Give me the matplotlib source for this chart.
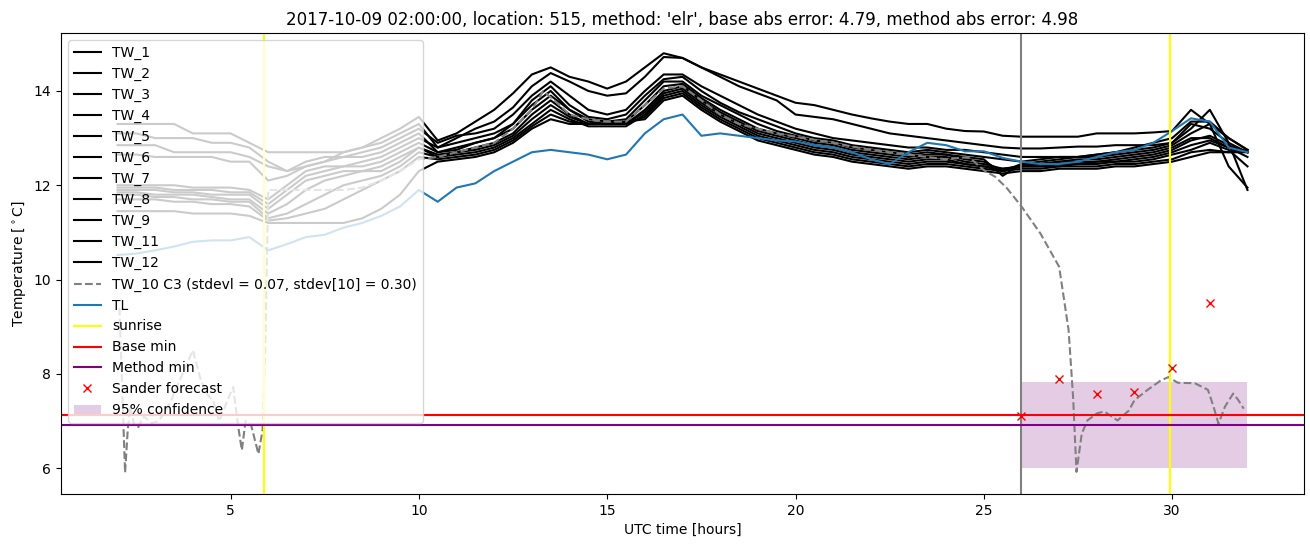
import numpy as np
import matplotlib
matplotlib.use("Agg")
import matplotlib.pyplot as plt

# half-hour grid shared by the TW sensors and TL (UTC hours)
hours = np.arange(2.0, 32.01, 0.5)

# TW sensor temperatures, one value per half hour from 2 to 32
tw_1 = [13.3, 13.3, 13.3, 13.3, 13.1, 13.1, 13.1, 12.9, 12.7, 12.7,
        12.7, 12.7, 12.7, 12.8, 13.0, 13.2, 13.45, 12.95, 13.1, 13.35,
        13.6, 13.95, 14.35, 14.5, 14.3, 14.2, 14.05, 14.2, 14.5, 14.8,
        14.7, 14.5, 14.35, 14.2, 14.05, 13.9, 13.75, 13.7, 13.6, 13.5,
        13.42, 13.35, 13.3, 13.3, 13.2, 13.15, 13.14, 13.05, 13.03, 13.03,
        13.03, 13.03, 13.1, 13.1, 13.1, 13.12, 13.15, 13.6, 13.3, 12.4,
        11.95]
tw_2 = [13.1, 13.1, 13.0, 13.0, 13.0, 12.9, 12.9, 12.8, 12.5, 12.3,
        12.4, 12.5, 12.7, 12.8, 12.9, 13.1, 13.3, 12.8, 13.0, 13.2,
        13.35, 13.65, 14.1, 14.38, 14.2, 14.0, 13.9, 13.95, 14.3, 14.72,
        14.7, 14.5, 14.3, 14.1, 13.95, 13.8, 13.5, 13.45, 13.4, 13.3,
        13.2, 13.1, 13.05, 13.0, 12.95, 12.9, 12.85, 12.8, 12.78, 12.78,
        12.8, 12.82, 12.82, 12.85, 12.85, 12.85, 12.9, 13.2, 13.6, 12.9,
        11.9]
tw_3 = [12.85, 12.85, 12.85, 12.7, 12.7, 12.7, 12.7, 12.6, 12.4, 12.3,
        12.5, 12.6, 12.6, 12.7, 12.8, 13.0, 13.2, 12.9, 13.05, 13.1,
        13.2, 13.5, 13.9, 14.2, 13.9, 13.6, 13.5, 13.6, 14.0, 14.35,
        14.35, 14.1, 13.9, 13.7, 13.5, 13.35, 13.2, 13.1, 13.0, 12.95,
        12.9, 12.85, 12.8, 12.8, 12.75, 12.75, 12.7, 12.65, 12.6, 12.6,
        12.6, 12.6, 12.65, 12.7, 12.8, 12.9, 13.0, 13.35, 13.35, 13.0,
        12.75]
tw_4 = [12.65, 12.65, 12.6, 12.6, 12.6, 12.6, 12.5, 12.5, 12.1, 12.2,
        12.4, 12.5, 12.6, 12.6, 12.7, 12.9, 13.1, 12.7, 12.8, 12.9,
        13.0, 13.3, 13.8, 14.1, 13.7, 13.45, 13.4, 13.5, 13.9, 14.25,
        14.3, 14.0, 13.75, 13.55, 13.4, 13.25, 13.1, 13.0, 12.95, 12.85,
        12.8, 12.75, 12.7, 12.75, 12.7, 12.65, 12.6, 12.55, 12.5, 12.55,
        12.6, 12.6, 12.65, 12.7, 12.75, 12.8, 12.9, 13.3, 13.2, 12.9,
        12.7]
tw_5 = [12.0, 12.0, 12.0, 12.0, 11.95, 11.95, 11.95, 11.9, 11.7, 12.0,
        12.3, 12.4, 12.4, 12.5, 12.6, 12.8, 13.0, 12.8, 12.9, 13.0,
        13.1, 13.3, 13.7, 14.0, 13.6, 13.4, 13.35, 13.4, 13.8, 14.2,
        14.2, 13.9, 13.7, 13.5, 13.3, 13.15, 13.05, 12.95, 12.9, 12.8,
        12.75, 12.7, 12.65, 12.7, 12.65, 12.6, 12.55, 12.2, 12.45, 12.5,
        12.55, 12.6, 12.6, 12.65, 12.7, 12.75, 12.85, 13.1, 13.3, 13.0,
        12.75]
tw_6 = [11.95, 11.95, 11.95, 11.9, 11.9, 11.9, 11.85, 11.85, 11.6, 11.9,
        12.2, 12.3, 12.4, 12.4, 12.5, 12.7, 12.9, 12.7, 12.75, 12.9,
        13.0, 13.2, 13.6, 13.9, 13.6, 13.35, 13.3, 13.35, 13.7, 14.1,
        14.15, 13.85, 13.6, 13.4, 13.2, 13.1, 13.0, 12.9, 12.85, 12.75,
        12.7, 12.65, 12.6, 12.65, 12.65, 12.55, 12.5, 12.3, 12.45, 12.45,
        12.5, 12.55, 12.55, 12.6, 12.65, 12.7, 12.8, 13.0, 13.0, 12.8,
        12.7]
tw_7 = [11.9, 11.9, 11.9, 11.85, 11.85, 11.8, 11.8, 11.8, 11.5, 11.8,
        12.1, 12.2, 12.3, 12.3, 12.4, 12.6, 12.8, 12.6, 12.7, 12.8,
        12.9, 13.1, 13.5, 13.8, 13.5, 13.3, 13.3, 13.3, 13.6, 14.0,
        14.1, 13.8, 13.55, 13.35, 13.15, 13.05, 12.95, 12.85, 12.8, 12.7,
        12.65, 12.6, 12.55, 12.6, 12.6, 12.5, 12.45, 12.35, 12.4, 12.45,
        12.5, 12.5, 12.5, 12.55, 12.6, 12.65, 12.75, 12.95, 13.05, 12.85,
        12.7]
tw_8 = [11.85, 11.85, 11.8, 11.8, 11.8, 11.75, 11.7, 11.7, 11.4, 11.6,
        11.9, 12.1, 12.2, 12.3, 12.3, 12.5, 12.8, 12.65, 12.7, 12.75,
        12.85, 13.05, 13.4, 13.7, 13.45, 13.3, 13.3, 13.3, 13.55, 13.95,
        14.05, 13.75, 13.5, 13.3, 13.1, 13.0, 12.9, 12.8, 12.75, 12.65,
        12.6, 12.55, 12.5, 12.55, 12.55, 12.45, 12.4, 12.35, 12.4, 12.4,
        12.45, 12.45, 12.5, 12.5, 12.55, 12.6, 12.7, 12.85, 12.95, 12.8,
        12.6]
tw_9 = [11.8, 11.8, 11.75, 11.75, 11.7, 11.7, 11.65, 11.65, 11.3, 11.4,
        11.6, 11.8, 12.0, 12.1, 12.2, 12.4, 12.7, 12.6, 12.65, 12.7,
        12.8, 13.0, 13.3, 13.6, 13.4, 13.25, 13.25, 13.25, 13.5, 13.9,
        14.0, 13.7, 13.45, 13.25, 13.05, 12.95, 12.85, 12.75, 12.7, 12.6,
        12.55, 12.5, 12.45, 12.5, 12.5, 12.45, 12.4, 12.3, 12.4, 12.4,
        12.4, 12.45, 12.45, 12.5, 12.5, 12.55, 12.65, 12.75, 12.9, 12.75,
        12.4]
tw_11 = [11.7, 11.7, 11.7, 11.65, 11.65, 11.6, 11.6, 11.55, 11.25, 11.3,
         11.4, 11.5, 11.7, 11.9, 12.1, 12.3, 12.6, 12.55, 12.6, 12.65,
         12.75, 12.95, 13.25, 13.5, 13.35, 13.3, 13.3, 13.3, 13.45, 13.85,
         13.95, 13.65, 13.4, 13.2, 13.0, 12.9, 12.8, 12.7, 12.65, 12.55,
         12.5, 12.45, 12.4, 12.45, 12.45, 12.4, 12.35, 12.3, 12.35, 12.35,
         12.4, 12.4, 12.4, 12.45, 12.45, 12.5, 12.55, 12.7, 12.75, 12.7,
         12.7]
tw_12 = [11.45, 11.45, 11.45, 11.45, 11.4, 11.4, 11.4, 11.35, 11.2, 11.2,
         11.2, 11.2, 11.2, 11.3, 11.5, 11.8, 12.3, 12.5, 12.55, 12.6,
         12.7, 12.9, 13.2, 13.4, 13.3, 13.3, 13.3, 13.35, 13.4, 13.8,
         13.9, 13.6, 13.35, 13.15, 12.95, 12.85, 12.75, 12.65, 12.6, 12.5,
         12.45, 12.4, 12.35, 12.4, 12.4, 12.35, 12.3, 12.25, 12.3, 12.3,
         12.35, 12.35, 12.35, 12.4, 12.4, 12.45, 12.5, 12.6, 12.7, 12.7,
         12.75]

tw_labels = ['TW_1', 'TW_2', 'TW_3', 'TW_4', 'TW_5', 'TW_6', 'TW_7',
             'TW_8', 'TW_9', 'TW_11', 'TW_12']
tw_series = [tw_1, tw_2, tw_3, tw_4, tw_5, tw_6, tw_7, tw_8, tw_9, tw_11, tw_12]

# TL (air temperature)
tl = [10.52, 10.55, 10.62, 10.7, 10.8, 10.83, 10.83, 10.9, 10.62, 10.75,
      10.9, 10.95, 11.1, 11.2, 11.35, 11.55, 11.9, 11.65, 11.95, 12.04,
      12.3, 12.5, 12.7, 12.75, 12.7, 12.65, 12.55, 12.65, 13.1, 13.4,
      13.5, 13.05, 13.1, 13.05, 13.0, 12.95, 12.93, 12.85, 12.8, 12.7,
      12.55, 12.45, 12.7, 12.9, 12.85, 12.72, 12.72, 12.58, 12.5, 12.45,
      12.45, 12.5, 12.6, 12.7, 12.75, 12.9, 13.15, 13.42, 13.35, 12.8,
      12.7]

# TW_10 C3, irregular sampling
tw10_hours = [2.05, 2.2, 2.27, 2.33, 2.45, 2.55, 2.7, 2.9, 3.1, 3.39,
              3.65, 4.0, 4.2, 4.35, 4.55, 4.7, 4.85, 5.07, 5.2, 5.3,
              5.4, 5.55, 5.74, 5.85, 5.92, 6.0, 7.0, 8.0, 8.5, 9.0,
              9.5, 10.0, 10.5, 11.0, 11.5, 12.0, 12.5, 13.0, 13.3, 13.6,
              14.0, 14.5, 15.0, 15.5, 16.0, 16.5, 17.0, 17.5, 18.0, 18.5,
              19.0, 19.5, 20.0, 21.0, 21.5, 22.0, 23.0, 24.0, 24.6, 25.0,
              25.3, 25.6, 26.0, 26.5, 27.0, 27.25, 27.37, 27.46, 27.6, 27.75,
              28.0, 28.2, 28.55, 28.85, 29.0, 29.35, 29.7, 29.9, 30.15, 30.6,
              30.95, 31.1, 31.23, 31.4, 31.62, 31.75, 31.9]
tw10 = [9.4, 5.9, 6.8, 7.3, 6.9, 6.87, 7.1, 6.95, 7.0, 7.37,
        7.86, 8.5, 7.9, 7.6, 7.4, 7.0, 7.3, 7.72, 6.9, 6.38,
        7.0, 6.9, 6.3, 6.8, 8.5, 11.9, 11.9, 11.9, 11.95, 12.1,
        12.3, 12.55, 12.6, 12.7, 12.8, 12.9, 13.2, 13.6, 14.0, 13.8,
        13.5, 13.4, 13.35, 13.35, 13.7, 14.05, 14.1, 13.8, 13.5, 13.3,
        13.2, 13.1, 13.03, 12.9, 12.82, 12.75, 12.65, 12.55, 12.6, 12.32,
        12.18, 11.95, 11.55, 10.98, 10.27, 8.93, 7.51, 5.92, 6.73, 7.01,
        7.16, 7.2, 7.01, 7.22, 7.44, 7.66, 7.86, 7.93, 7.81, 7.8,
        7.66, 7.3, 6.94, 7.3, 7.58, 7.45, 7.26]

sunrise = [5.89, 29.93]
forecast_start = 26.0
base_min = 7.12
method_min = 6.91

sander_hours = [26, 27, 28, 29, 30, 31]
sander_vals = [7.10, 7.88, 7.58, 7.62, 8.13, 9.51]

conf_hours = [26, 32]
conf_low = [6.0, 6.0]
conf_high = [7.82, 7.82]

fig, ax = plt.subplots(figsize=(13.1, 5.47), dpi=100)

for vals, lab in zip(tw_series, tw_labels):
    ax.plot(hours, vals, color='black', label=lab)
ax.plot(tw10_hours, tw10, '--', color='grey',
        label='TW_10 C3 (stdevl = 0.07, stdev[10] = 0.30)')
ax.plot(hours, tl, color='C0', label='TL')

ax.axvline(sunrise[0], color='yellow', label='sunrise')
ax.axvline(sunrise[1], color='yellow')
ax.axvline(forecast_start, color='grey')
ax.axhline(base_min, color='red', label='Base min')
ax.axhline(method_min, color='purple', label='Method min')
ax.plot(sander_hours, sander_vals, 'rx', label='Sander forecast')
ax.fill_between(conf_hours, conf_low, conf_high, color='purple', alpha=0.2,
                linewidth=0, label='95% confidence')

ax.set_xlim(0.5, 33.5)
ax.set_ylim(5.45, 15.23)
ax.set_xlabel('UTC time [hours]')
ax.set_ylabel(r'Temperature [$^\circ$C]')
ax.set_title("2017-10-09 02:00:00, location: 515, method: 'elr', "
             "base abs error: 4.79, method abs error: 4.98")
ax.legend(loc='upper left')

fig.subplots_adjust(left=0.0466, right=0.9954, top=0.9397, bottom=0.0969)
fig.savefig('out.png')
